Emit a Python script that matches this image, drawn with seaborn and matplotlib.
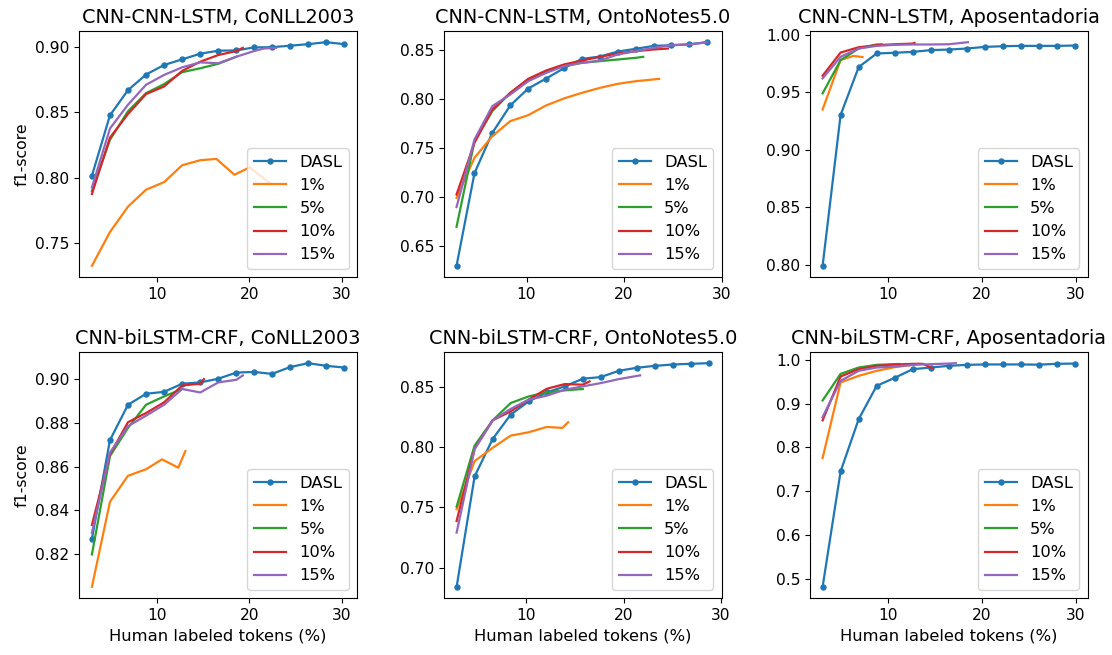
import matplotlib
matplotlib.use("Agg")
import matplotlib.pyplot as plt
import seaborn as sns
import numpy as np

plt.rcParams['font.family'] = ['DejaVu Sans']

labels = ["DASL", "1%", "5%", "10%", "15%"]
titles = ["CNN-CNN-LSTM, CoNLL2003", "CNN-CNN-LSTM, OntoNotes5.0", "CNN-CNN-LSTM, Aposentadoria",
          "CNN-biLSTM-CRF, CoNLL2003", "CNN-biLSTM-CRF, OntoNotes5.0", "CNN-biLSTM-CRF, Aposentadoria"]
x_ticks = [10, 20, 30]
y_ticks = [
    [0.75, 0.80, 0.85, 0.90],
    [0.65, 0.70, 0.75, 0.80, 0.85],
    [0.80, 0.85, 0.90, 0.95, 1.00],
    [0.82, 0.84, 0.86, 0.88, 0.90],
    [0.70, 0.75, 0.80, 0.85],
    [0.5, 0.6, 0.7, 0.8, 0.9, 1.0],
]

# x grids (human labeled tokens %)
g_conll = [3.0, 4.95, 6.9, 8.85, 10.8, 12.75, 14.7, 16.65, 18.6, 20.5, 22.45, 24.4, 26.35, 28.3, 30.25]
g_onto1 = [2.82, 4.66, 6.49, 8.33, 10.17, 12.0, 13.84, 15.68, 17.52, 19.35, 21.19, 23.03, 24.86, 26.7, 28.54]
g_apos = [2.99, 4.91, 6.84, 8.76, 10.68, 12.61, 14.53, 16.45, 18.37, 20.3, 22.22, 24.14, 26.07, 27.99, 29.91]
g_onto2 = [2.83, 4.68, 6.54, 8.39, 10.24, 12.1, 13.95, 15.8, 17.65, 19.51, 21.36, 23.21, 25.07, 26.92, 28.77]

# Panel 1: CNN-CNN-LSTM, CoNLL2003
p1_dasl_x = g_conll
p1_dasl_y = [0.8015, 0.8477, 0.8669, 0.8788, 0.8861, 0.8904, 0.8947, 0.8970, 0.8972, 0.8995, 0.8997, 0.9008, 0.9020, 0.9035, 0.9020]
p1_1_x = [3.0, 4.95, 6.9, 8.85, 10.8, 12.75, 14.7, 16.45, 18.4, 20.05, 22.2]
p1_1_y = [0.7328, 0.7586, 0.7780, 0.7909, 0.7967, 0.8096, 0.8134, 0.8144, 0.8023, 0.8080, 0.7960]
p1_5_x = g_conll[:9]
p1_5_y = [0.7900, 0.8290, 0.8508, 0.8646, 0.8715, 0.8806, 0.8836, 0.8870, 0.8924]
p1_10_x = g_conll[:9] + [19.3]
p1_10_y = [0.7876, 0.8306, 0.8487, 0.8639, 0.8697, 0.8816, 0.8886, 0.8937, 0.8967, 0.8992]
p1_15_x = g_conll[:10] + [21.6, 22.9]
p1_15_y = [0.7926, 0.8376, 0.8558, 0.8710, 0.8785, 0.8843, 0.8881, 0.8874, 0.8924, 0.8967, 0.8987, 0.8992]

# Panel 2: CNN-CNN-LSTM, OntoNotes5.0
p2_dasl_x = g_onto1
p2_dasl_y = [0.6296, 0.7243, 0.7655, 0.7935, 0.8108, 0.8210, 0.8316, 0.8411, 0.8435, 0.8486, 0.8514, 0.8544, 0.8551, 0.8561, 0.8582]
p2_1_x = g_onto1[:11] + [23.6]
p2_1_y = [0.6991, 0.7400, 0.7621, 0.7775, 0.7836, 0.7935, 0.8007, 0.8064, 0.8115, 0.8156, 0.8183, 0.8207]
p2_5_x = g_onto1[:11] + [21.97]
p2_5_y = [0.6695, 0.7570, 0.7877, 0.8064, 0.8200, 0.8285, 0.8337, 0.8371, 0.8388, 0.8405, 0.8422, 0.8432]
p2_10_x = g_onto1[:12] + [24.5]
p2_10_y = [0.7025, 0.7553, 0.7894, 0.8064, 0.8207, 0.8292, 0.8354, 0.8394, 0.8432, 0.8466, 0.8490, 0.8507, 0.8517]
p2_15_x = g_onto1
p2_15_y = [0.6896, 0.7587, 0.7928, 0.8047, 0.8183, 0.8268, 0.8337, 0.8371, 0.8394, 0.8456, 0.8490, 0.8524, 0.8551, 0.8558, 0.8582]

# Panel 3: CNN-CNN-LSTM, Aposentadoria
p3_dasl_x = g_apos
p3_dasl_y = [0.7994, 0.9303, 0.9718, 0.9836, 0.9842, 0.9850, 0.9865, 0.9870, 0.9879, 0.9893, 0.9899, 0.9902, 0.9902, 0.9902, 0.9905]
p3_1_x = [2.99, 4.91, 6.3, 7.24]
p3_1_y = [0.9350, 0.9780, 0.9815, 0.9805]
p3_5_x = g_apos[:4] + [9.3]
p3_5_y = [0.9490, 0.9778, 0.9879, 0.9914, 0.9916]
p3_10_x = g_apos[:6] + [12.8]
p3_10_y = [0.9643, 0.9844, 0.9890, 0.9908, 0.9916, 0.9922, 0.9928]
p3_15_x = g_apos[:8] + [18.5]
p3_15_y = [0.9620, 0.9807, 0.9879, 0.9902, 0.9911, 0.9914, 0.9914, 0.9916, 0.9934]

# Panel 4: CNN-biLSTM-CRF, CoNLL2003
p4_dasl_x = g_conll
p4_dasl_y = [0.8270, 0.8721, 0.8883, 0.8933, 0.8942, 0.8979, 0.8985, 0.9002, 0.9030, 0.9033, 0.9024, 0.9055, 0.9073, 0.9061, 0.9053]
p4_1_x = [3.0, 4.95, 6.9, 8.85, 10.57, 12.33, 13.1]
p4_1_y = [0.8050, 0.8439, 0.8558, 0.8588, 0.8633, 0.8595, 0.8671]
p4_5_x = g_conll[:6]
p4_5_y = [0.8198, 0.8648, 0.8777, 0.8883, 0.8921, 0.8955]
p4_10_x = g_conll[:7] + [15.1]
p4_10_y = [0.8333, 0.8656, 0.8803, 0.8845, 0.8894, 0.8971, 0.8979, 0.9000]
p4_15_x = g_conll[:9] + [19.3]
p4_15_y = [0.8297, 0.8664, 0.8785, 0.8833, 0.8883, 0.8955, 0.8939, 0.8985, 0.8997, 0.9017]

# Panel 5: CNN-biLSTM-CRF, OntoNotes5.0
p5_dasl_x = g_onto2
p5_dasl_y = [0.6843, 0.7757, 0.8068, 0.8269, 0.8379, 0.8453, 0.8503, 0.8566, 0.8580, 0.8632, 0.8657, 0.8673, 0.8684, 0.8690, 0.8695]
p5_1_x = g_onto2[:6] + [13.7, 14.3]
p5_1_y = [0.7485, 0.7884, 0.7994, 0.8095, 0.8123, 0.8167, 0.8159, 0.8206]
p5_5_x = g_onto2[:8]
p5_5_y = [0.7507, 0.8013, 0.8222, 0.8365, 0.8420, 0.8453, 0.8470, 0.8481]
p5_10_x = g_onto2[:8] + [16.5]
p5_10_y = [0.7388, 0.7985, 0.8222, 0.8296, 0.8393, 0.8483, 0.8522, 0.8517, 0.8544]
p5_15_x = g_onto2[:10] + [21.7]
p5_15_y = [0.7292, 0.7985, 0.8222, 0.8316, 0.8393, 0.8426, 0.8475, 0.8503, 0.8530, 0.8563, 0.8594]

# Panel 6: CNN-biLSTM-CRF, Aposentadoria
p6_dasl_x = g_apos
p6_dasl_y = [0.4810, 0.7450, 0.8645, 0.9406, 0.9589, 0.9787, 0.9825, 0.9863, 0.9886, 0.9895, 0.9895, 0.9895, 0.9890, 0.9910, 0.9915]
p6_1_x = g_apos[:6] + [13.2]
p6_1_y = [0.7755, 0.9483, 0.9635, 0.9749, 0.9833, 0.9886, 0.9909]
p6_5_x = g_apos[:5] + [11.2]
p6_5_y = [0.9072, 0.9680, 0.9825, 0.9886, 0.9901, 0.9905]
p6_10_x = g_apos[:6] + [13.7, 14.7]
p6_10_y = [0.8615, 0.9620, 0.9787, 0.9863, 0.9893, 0.9909, 0.9909, 0.9810]
p6_15_x = g_apos[:8] + [17.2]
p6_15_y = [0.8691, 0.9521, 0.9749, 0.9825, 0.9848, 0.9886, 0.9901, 0.9916, 0.9924]

panels = [
    [(p1_dasl_x, p1_dasl_y), (p1_1_x, p1_1_y), (p1_5_x, p1_5_y), (p1_10_x, p1_10_y), (p1_15_x, p1_15_y)],
    [(p2_dasl_x, p2_dasl_y), (p2_1_x, p2_1_y), (p2_5_x, p2_5_y), (p2_10_x, p2_10_y), (p2_15_x, p2_15_y)],
    [(p3_dasl_x, p3_dasl_y), (p3_1_x, p3_1_y), (p3_5_x, p3_5_y), (p3_10_x, p3_10_y), (p3_15_x, p3_15_y)],
    [(p4_dasl_x, p4_dasl_y), (p4_1_x, p4_1_y), (p4_5_x, p4_5_y), (p4_10_x, p4_10_y), (p4_15_x, p4_15_y)],
    [(p5_dasl_x, p5_dasl_y), (p5_1_x, p5_1_y), (p5_5_x, p5_5_y), (p5_10_x, p5_10_y), (p5_15_x, p5_15_y)],
    [(p6_dasl_x, p6_dasl_y), (p6_1_x, p6_1_y), (p6_5_x, p6_5_y), (p6_10_x, p6_10_y), (p6_15_x, p6_15_y)],
]

colors = sns.color_palette("tab10")[:5]

W, H = 1112, 655
fig = plt.figure(figsize=(W / 100, H / 100), dpi=100)
col_left = [79.3, 444, 810]
ax_w = 277.5
row_top = [31, 352]
ax_h = 246

for i, series in enumerate(panels):
    r, c = divmod(i, 3)
    ax = fig.add_axes([col_left[c] / W, 1 - (row_top[r] + ax_h) / H, ax_w / W, ax_h / H])
    for j, ((xs, ys), lab) in enumerate(zip(series, labels)):
        kw = dict(marker="o", markersize=4.6, markeredgewidth=0) if j == 0 else {}
        sns.lineplot(x=np.array(xs), y=np.array(ys), ax=ax, color=colors[j], label=lab,
                     linewidth=1.6, sort=False, estimator=None, **kw)
    ax.set_title(titles[i], fontsize=13.9)
    ax.set_xticks(x_ticks)
    ax.set_yticks(y_ticks[i])
    ax.tick_params(labelsize=11.2)
    ax.legend(loc="lower right", fontsize=11.7)
    if c == 0:
        ax.set_ylabel("f1-score", fontsize=11.3)
    else:
        ax.set_ylabel("")
    if r == 1:
        ax.set_xlabel("Human labeled tokens (%)", fontsize=11.8)
    else:
        ax.set_xlabel("")

fig.savefig("out.png", dpi=100)
